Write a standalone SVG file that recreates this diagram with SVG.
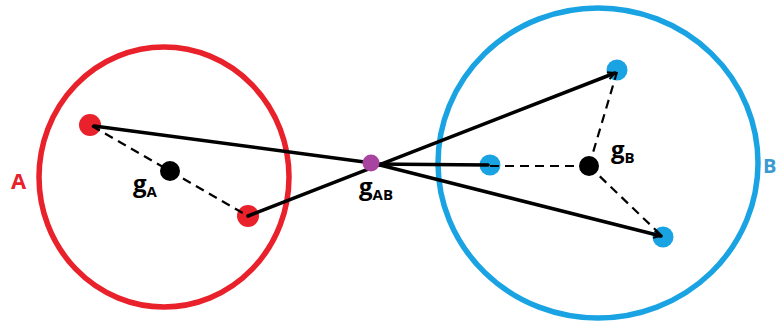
<svg xmlns="http://www.w3.org/2000/svg" width="777" height="323" viewBox="0 0 777 323">
<defs>
<style>
.ring{fill:none;stroke-width:5.5}
.ra{stroke:#e8212b}
.rb{stroke:#1aa3e3}
.dotA{fill:#e8212b}
.dotB{fill:#1aa3e3}
.cen{fill:#000}
.solid{stroke:#000;stroke-width:3.5;fill:none;stroke-linecap:round}
.dash{stroke:#000;stroke-width:2.2;fill:none;stroke-dasharray:9,6}
.lbl{font-family:"Open Sans","Liberation Sans",sans-serif;font-weight:bold}
</style>
<marker id="hd" viewBox="0 0 10 10" refX="9" refY="5" markerWidth="2.6" markerHeight="2.6" orient="auto" markerUnits="strokeWidth">
<path d="M1,1 L9,5 L1,9" fill="none" stroke="#000" stroke-width="2"/>
</marker>
</defs>
<rect width="777" height="323" fill="#fff"/>
<g id="setA">
<ellipse class="ring ra" cx="164" cy="177" rx="125" ry="130"/>
<text class="lbl" x="11" y="189" font-size="22" fill="#e8212b">A</text>
</g>
<g id="setB">
<ellipse class="ring rb" cx="598" cy="163" rx="160" ry="155"/>
<text class="lbl" x="763" y="173" font-size="20" fill="#3a9ad0">B</text>
</g>
<g id="a1"><circle class="dotA" cx="90" cy="125" r="11"/></g>
<g id="a2"><circle class="dotA" cx="248" cy="216" r="11"/></g>
<g id="b1"><circle class="dotB" cx="617" cy="70" r="10.5"/></g>
<g id="b2"><circle class="dotB" cx="490" cy="165" r="10.5"/></g>
<g id="b3"><circle class="dotB" cx="663" cy="237" r="10.5"/></g>
<g id="connectors">
<line class="dash" x1="92" y1="126" x2="248" y2="216"/>
<line class="dash" x1="490" y1="166" x2="589" y2="166"/>
<line class="dash" x1="589" y1="166" x2="617" y2="72"/>
<line class="dash" x1="589" y1="166" x2="663" y2="237"/>
<polyline class="solid" points="94,126 372,163 661,236" marker-end="url(#hd)"/>
<line class="solid" x1="248" y1="216" x2="615" y2="73" marker-end="url(#hd)"/>
<line class="solid" x1="372" y1="164" x2="488" y2="165"/>
</g>
<g id="gA">
<circle class="cen" cx="170" cy="171" r="10"/>
<text class="lbl" x="133" y="192" font-size="24" fill="#000">g<tspan font-size="15" dy="5">A</tspan></text>
</g>
<g id="gB">
<circle class="cen" cx="589" cy="166" r="10"/>
<text class="lbl" x="611" y="158" font-size="24" fill="#000">g<tspan font-size="15" dy="5">B</tspan></text>
</g>
<g id="gAB">
<circle cx="371" cy="163" r="8.5" fill="#a8449f"/>
<text class="lbl" x="359" y="195" font-size="24" fill="#000">g<tspan font-size="15" dy="5">AB</tspan></text>
</g>
</svg>
